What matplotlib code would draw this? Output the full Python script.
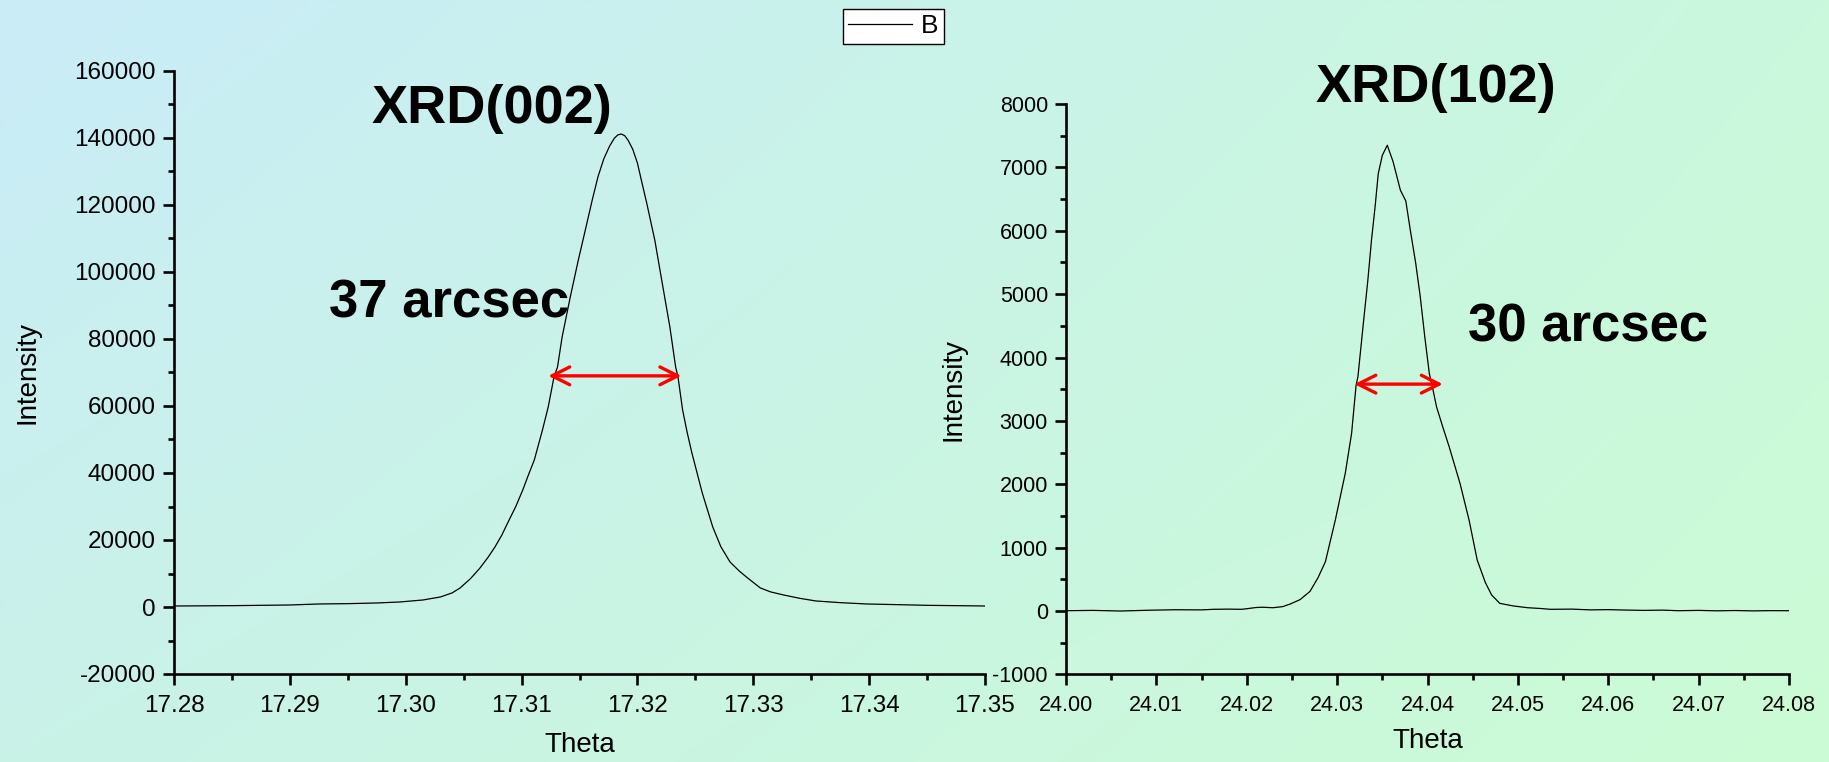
import numpy as np
import matplotlib
matplotlib.use("Agg")
import matplotlib.pyplot as plt
from matplotlib.ticker import MultipleLocator, FormatStrFormatter

plt.rcParams['font.family'] = ['Liberation Sans', 'DejaVu Sans']

# (002) rocking curve
theta_002 = [17.2800, 17.2850, 17.2900, 17.2925, 17.2950, 17.2975, 17.2995, 17.3015,
             17.3030, 17.3040, 17.3047, 17.3056, 17.3064, 17.3071, 17.3077, 17.3083,
             17.3088, 17.3095, 17.3101, 17.3106, 17.3111, 17.3118, 17.3123, 17.3128,
             17.3131, 17.3135, 17.3142, 17.3149, 17.3155, 17.3161, 17.3166, 17.3171,
             17.3176, 17.3180, 17.3183, 17.3186, 17.3189, 17.3192, 17.3196, 17.3200,
             17.3204, 17.3208, 17.3215, 17.3222, 17.3228, 17.3233, 17.3235, 17.3239,
             17.3243, 17.3247, 17.3256, 17.3265, 17.3272, 17.3280, 17.3288, 17.3295,
             17.3306, 17.3315, 17.3326, 17.3340, 17.3354, 17.3375, 17.3398, 17.3425,
             17.3450, 17.3475, 17.3500]
int_002 = [300, 400, 600, 900, 1000, 1200, 1500, 2100,
           3000, 4200, 5700, 8500, 11600, 14800, 17900, 21500,
           25100, 30000, 34900, 39500, 43900, 52800, 59700, 68700,
           71600, 80600, 92500, 103600, 112500, 121500, 128500, 133800,
           137600, 139900, 140900, 141200, 140700, 139300, 136600, 132500,
           126500, 120600, 109500, 95500, 83600, 71600, 68700, 58800,
           52000, 46000, 34000, 23900, 18000, 13400, 10700, 8700,
           5700, 4500, 3600, 2600, 1800, 1300, 900, 700,
           500, 400, 300]

# (102) rocking curve
theta_102 = [24.0000, 24.0030, 24.0060, 24.0090, 24.0120, 24.0150, 24.0163, 24.0180,
             24.0194, 24.0200, 24.0210, 24.0217, 24.0229, 24.0240, 24.0248, 24.0259,
             24.0270, 24.0279, 24.0287, 24.0298, 24.0309, 24.0316, 24.0321, 24.0323,
             24.0329, 24.0334, 24.0338, 24.0342, 24.03455, 24.0350, 24.03555, 24.0362,
             24.0370, 24.0376, 24.0381, 24.0387, 24.0392, 24.0397, 24.0402, 24.0405,
             24.0410, 24.0417, 24.0424, 24.0436, 24.0446, 24.0455, 24.0464, 24.0471,
             24.0480, 24.0495, 24.0511, 24.0525, 24.0536, 24.0560, 24.0580, 24.0600,
             24.0616, 24.0640, 24.0660, 24.0678, 24.0700, 24.0720, 24.0740, 24.0760,
             24.0780, 24.0800]
int_102 = [5, 10, 0, 12, 20, 18, 27, 30,
           27, 36, 55, 60, 52, 70, 110, 180,
           310, 530, 777, 1435, 2172, 2802, 3564, 3695,
           4537, 5220, 5850, 6376, 6900, 7190, 7349, 7086,
           6640, 6470, 6008, 5483, 4957, 4326, 3748, 3564,
           3222, 2900, 2591, 2013, 1435, 804, 450, 252,
           121, 80, 52, 40, 27, 30, 18, 22,
           16, 10, 14, 5, 10, 3, 8, 2,
           6, 5]

# FWHM markers: (left edge, right edge, height) and labels
fwhm_002 = (17.3123, 17.3238, 69000)
fwhm_102 = (24.0319, 24.0417, 3580)
fwhm_text = ["37 arcsec", "30 arcsec"]
peak_titles = ["XRD(002)", "XRD(102)"]
series_label = "B"

W, H = 1829, 762
fig = plt.figure(figsize=(W / 100, H / 100), dpi=100)
fig.patch.set_facecolor("none")

# diagonal pastel gradient background
bg = fig.add_axes([0, 0, 1, 1], zorder=-10)
tl = np.array([201, 236, 248]) / 255
tr = np.array([201, 248, 221]) / 255
bl = np.array([201, 242, 232]) / 255
br = np.array([203, 252, 213]) / 255
u = np.linspace(0, 1, 200)[None, :, None]
v = np.linspace(0, 1, 100)[:, None, None]
img = (1 - v) * ((1 - u) * tl + u * tr) + v * ((1 - u) * bl + u * br)
bg.imshow(img, aspect="auto", extent=[0, 1, 0, 1], interpolation="bilinear")
bg.set_axis_off()


def px_rect(x0, x1, y_top, y_bot):
    return [x0 / W, 1 - y_bot / H, (x1 - x0) / W, (y_bot - y_top) / H]


ax1 = fig.add_axes(px_rect(174, 985, 71, 674))
ax2 = fig.add_axes(px_rect(1066, 1789, 104, 674.4))

line1, = ax1.plot(theta_002, int_002, color="black", lw=0.9)
ax2.plot(theta_102, int_102, color="black", lw=0.9)

ax1.set_xlim(17.28, 17.35)
ax1.set_ylim(-20000, 160000)
ax2.set_xlim(24.00, 24.08)
ax2.set_ylim(-1000, 8000)

ax1.xaxis.set_major_locator(MultipleLocator(0.01))
ax1.xaxis.set_minor_locator(MultipleLocator(0.005))
ax1.yaxis.set_major_locator(MultipleLocator(20000))
ax1.yaxis.set_minor_locator(MultipleLocator(10000))
ax2.xaxis.set_major_locator(MultipleLocator(0.01))
ax2.xaxis.set_minor_locator(MultipleLocator(0.005))
ax2.yaxis.set_major_locator(MultipleLocator(1000))
ax2.yaxis.set_minor_locator(MultipleLocator(500))

for ax, fs, ylx in ((ax1, 17.5, -0.165), (ax2, 15.5, -0.138)):
    ax.set_facecolor("none")
    ax.spines["top"].set_visible(False)
    ax.spines["right"].set_visible(False)
    for s in ("left", "bottom"):
        ax.spines[s].set_linewidth(1.9)
    ax.xaxis.set_major_formatter(FormatStrFormatter("%.2f"))
    ax.yaxis.set_major_formatter(FormatStrFormatter("%d"))
    ax.tick_params(which="major", direction="out", length=8, width=1.9,
                   labelsize=fs)
    ax.tick_params(which="minor", direction="out", length=4.5, width=1.9)
    ax.tick_params(axis="y", which="major", pad=5)
    ax.tick_params(axis="x", which="major", pad=7)
    ax.set_xlabel("Theta", fontsize=20)
    ax.set_ylabel("Intensity", fontsize=20)
    ax.yaxis.set_label_coords(ylx, 0.5)

ax1.xaxis.set_label_coords(0.5, -0.096)
ax2.xaxis.set_label_coords(0.5, -0.094)

arrow_kw = dict(arrowstyle="<->", color="red", lw=2.4, mutation_scale=32,
                shrinkA=0, shrinkB=0)
for ax, (xa, xb, yh) in ((ax1, fwhm_002), (ax2, fwhm_102)):
    ax.annotate("", xy=(xb, yh), xytext=(xa, yh), arrowprops=arrow_kw)

fig.text(492 / W, 1 - 123 / H, peak_titles[0], fontsize=39, fontweight="bold",
         ha="center", va="baseline")
fig.text(449.5 / W, 1 - 318 / H, fwhm_text[0], fontsize=38, fontweight="bold",
         ha="center", va="baseline")
fig.text(1436 / W, 1 - 102 / H, peak_titles[1], fontsize=39, fontweight="bold",
         ha="center", va="baseline")
fig.text(1588 / W, 1 - 342 / H, fwhm_text[1], fontsize=38, fontweight="bold",
         ha="center", va="baseline")

leg = fig.legend([line1], [series_label], loc="upper left",
                 bbox_to_anchor=(843 / W, 1 - 9 / H), borderaxespad=0,
                 fontsize=19, fancybox=False, frameon=True, framealpha=1,
                 edgecolor="black", facecolor="white", handlelength=2.4,
                 handletextpad=0.35, borderpad=0.2)
leg.get_frame().set_linewidth(1.0)

fig.savefig("out.png", dpi=100)
